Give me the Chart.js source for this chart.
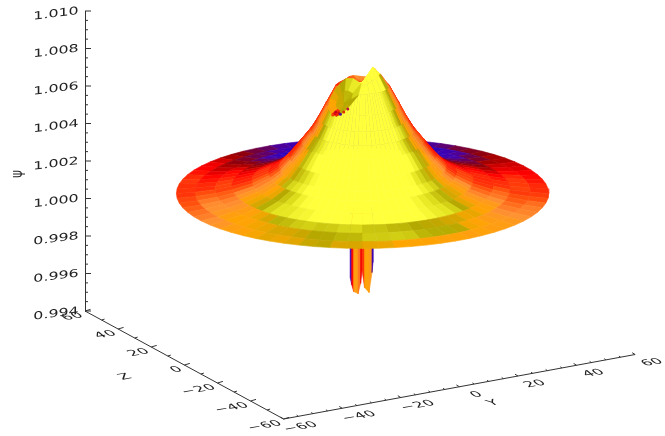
<!DOCTYPE html>
<html>
<head>
<meta charset="utf-8">
<style>
body { margin: 0; background: #fff; }
canvas { display: block; }
</style>
<script src="https://cdn.jsdelivr.net/npm/chart.js@4"></script>
</head>
<body>
<canvas id="surface" width="665" height="436"></canvas>
<script>
// tick labels
const psiTicks = ['0.994', '0.996', '0.998', '1.000', '1.002', '1.004', '1.006', '1.008', '1.010'];
const depthTicks = [-60, -40, -20, 0, 20, 40, 60];

// outer surface, psi read per ring
const ringRadius = [8, 11, 13.3, 15.5, 18.3, 22, 25, 28, 33, 39, 44, 50, 55.5];
const ringPsi = [1.00598, 1.00502, 1.00427, 1.00365, 1.00304, 1.00225, 1.0017, 1.00135, 1.00095, 1.00065, 1.00047, 1.00034, 1.00027];

// crown around the summit, one value each 15 deg from -165 to 180
const crownAzimuth = [-165, -150, -135, -120, -105, -90, -75, -60, -45, -30, -15, 0, 15, 30, 45, 60, 75, 90, 105, 120, 135, 150, 165, 180];
const crownPsi55 = [1.00625, 1.0063, 1.0063, 1.00625, 1.00615, 1.0061, 1.006, 1.006, 1.006, 1.0061, 1.0062, 1.0063, 1.0064, 1.0065, 1.0066, 1.0067, 1.0067, 1.0066, 1.00645, 1.00635, 1.0063, 1.0062, 1.0062, 1.0062];
const crownPsi36 = [1.0062, 1.0062, 1.0062, 1.0062, 1.0062, 1.0062, 1.0062, 1.0062, 1.0062, 1.0062, 1.0063, 1.0064, 1.0066, 1.0068, 1.007, 1.00711, 1.007, 1.0068, 1.0065, 1.0063, 1.0062, 1.0062, 1.0062, 1.0062];
const summitPsi = 1.0062;

// crater seen on the far left of the summit
const craterX = [-10.2, -9.6, -8.4, -6.7, -4.9, -2.8, -0.4, -1.3, -3.7, -5.8, -7.8, -9.3];
const craterPsi = [1.0048, 1.00533, 1.00576, 1.00613, 1.0064, 1.0064, 1.00613, 1.00549, 1.00496, 1.00459, 1.00437, 1.00453];
const craterMidX = -5.6;
const craterMidPsi = 1.00507;
const spotX = [-8.3, -8.0, -7.5, -7.1, -6.6, -5.6, -4.4, -8.9];
const spotPsi = [1.00452, 1.00461, 1.00448, 1.00457, 1.00449, 1.00462, 1.00478, 1.00445];

// spikes hanging under the disk
const wellX = [-3.7, -3.26, -2.66, -1.33, -0.59, -0.15, 0.59, 1.92, 2.81, 3.1];
const wellPsi = [0.99579, 0.99541, 0.99504, 0.99493, 0.99547, 0.99616, 0.99525, 0.99499, 0.99605, 0.99659];

// styling
const ringBand = [0, 0, 0, 0, 0, 0, 0, 0, 0, -0.1, -0.03, -0.02];
const ringLight = [0.62, 0.62, 0.62, 0.62, 0.6, 0.6, 0.58, 0.56, 0.52, 0.46, 0.38, 0.31];
const ringBack = [0.85, 0.85, 0.85, 0.85, 0.85, 0.85, 0.85, 0.85, 0.8, 0.68, 0.56, 0.44];
const patch = [0, 0.02, -0.012, 0.03, -0.025, 0.012, -0.02, 0.025, -0.008];
const craterEdgeShade = [0.76, 0.78, 0.8, 0.82, 0.88, 0.92, 0.88, 0.82, 0.81, 0.82, 0.5, 0.74];
const craterInnerShade = [0.8, 0.8, 0.8, 0.81, 0.84, 0.84, 0.83, 0.82, 0.82, 0.81, 0.8, 0.8];
const wellShade = [0.08, 0.44, 0.72, 0.6, 0.4, 0.5, 0.74, 0.7, 0.1];
const ramp = [
	[0, 40, 0, 190], [0.12, 70, 0, 170], [0.2, 110, 0, 70], [0.3, 150, 0, 0], [0.42, 255, 0, 0],
	[0.55, 255, 85, 15], [0.65, 255, 145, 50], [0.76, 255, 165, 0], [0.82, 178, 168, 0],
	[0.9, 226, 226, 30], [0.97, 255, 255, 60]
];

const TILT = 5.285e-5; // psi per unit of depth on screen

function shadeColor(t) {
	t = Math.max(0, Math.min(0.97, t));
	for (let i = 1; i < ramp.length; i++) {
		if (t <= ramp[i][0]) {
			const a = ramp[i - 1], b = ramp[i];
			const f = (t - a[0]) / (b[0] - a[0]);
			return 'rgb(' + [1, 2, 3].map(k => Math.round(a[k] + (b[k] - a[k]) * f)).join(',') + ')';
		}
	}
	return 'rgb(255,255,60)';
}

function project(radius, deg, psi) {
	const a = deg * Math.PI / 180;
	return { x: radius * Math.sin(a), y: psi - radius * TILT * Math.cos(a) };
}

function polygon(points, t) {
	const color = shadeColor(t);
	return {
		data: points.concat([points[0]]),
		showLine: true,
		fill: 'shape',
		backgroundColor: color,
		borderColor: color,
		borderWidth: 0.6,
		pointRadius: 0,
		clip: false
	};
}

function facetShade(deg, front, back, band, n) {
	const c = Math.cos(deg * Math.PI / 180);
	const lit = c < 0 ? -back * c * c : front * c + band * c * c * c;
	return 0.5 + lit + patch[n % patch.length];
}

// spikes go first, everything else paints over them
const painted = [];
for (let i = 0; i < wellShade.length; i++) {
	painted.push(polygon([
		{ x: wellX[i], y: 0.9995 }, { x: wellX[i + 1], y: 0.9995 },
		{ x: wellX[i + 1], y: wellPsi[i + 1] }, { x: wellX[i], y: wellPsi[i] }
	], wellShade[i]));
}

// mesh facets, far side first
const facets = [];
for (let j = 0; j < ringRadius.length - 1; j++) {
	for (let s = 0; s < 72; s++) {
		const d0 = s * 5 - 180, d1 = d0 + 5, mid = d0 + 2.5;
		const r0 = ringRadius[j], r1 = ringRadius[j + 1];
		facets.push({
			depth: (r0 + r1) / 2 * Math.cos(mid * Math.PI / 180),
			dataset: polygon([
				project(r0, d0, ringPsi[j]), project(r0, d1, ringPsi[j]),
				project(r1, d1, ringPsi[j + 1]), project(r1, d0, ringPsi[j + 1])
			], facetShade(mid, ringLight[j], ringBack[j], ringBand[j], j + Math.floor(s / 2) * 2))
		});
	}
}
for (let s = 0; s < crownAzimuth.length; s++) {
	const next = (s + 1) % crownAzimuth.length;
	const d0 = crownAzimuth[s], d1 = d0 + 15, mid = d0 + 7.5;
	facets.push({
		depth: 6.7 * Math.cos(mid * Math.PI / 180),
		dataset: polygon([
			project(5.5, d0, crownPsi55[s]), project(5.5, d1, crownPsi55[next]),
			project(8, d1, ringPsi[0]), project(8, d0, ringPsi[0])
		], facetShade(mid, 0.9, -0.15, 0, s))
	});
	facets.push({
		depth: 4.5 * Math.cos(mid * Math.PI / 180),
		dataset: polygon([
			project(3.6, d0, crownPsi36[s]), project(3.6, d1, crownPsi36[next]),
			project(5.5, d1, crownPsi55[next]), project(5.5, d0, crownPsi55[s])
		], facetShade(mid, 1.2, -0.15, 0, s + 3))
	});
	facets.push({
		depth: 1.8 * Math.cos(mid * Math.PI / 180),
		dataset: polygon([
			project(3.6, d0, crownPsi36[s]), project(3.6, d1, crownPsi36[next]), project(0, 0, summitPsi)
		], facetShade(mid, 1.2, -0.15, 0, s))
	});
}
facets.sort((a, b) => a.depth - b.depth);
facets.forEach(f => painted.push(f.dataset));

// crater sits on top of the mesh
for (let i = 0; i < craterX.length; i++) {
	const n = (i + 1) % craterX.length;
	const inner = k => ({
		x: craterMidX + (craterX[k] - craterMidX) * 0.5,
		y: craterMidPsi + (craterPsi[k] - craterMidPsi) * 0.5
	});
	painted.push(polygon([{ x: craterX[i], y: craterPsi[i] }, { x: craterX[n], y: craterPsi[n] }, inner(n), inner(i)], craterEdgeShade[i]));
	painted.push(polygon([inner(i), inner(n), { x: craterMidX, y: craterMidPsi }], craterInnerShade[i]));
}
painted.push({
	data: spotX.map((x, i) => ({ x: x, y: spotPsi[i] })),
	pointRadius: 1.5,
	pointBorderWidth: 0,
	pointBackgroundColor: ['#e01010', '#c80020', '#f02000', '#d01010', '#50109a', '#e03000', '#c01040', '#f04000'],
	showLine: false,
	clip: false
});

// chart draws the first dataset on top
const datasets = painted.reverse();

const TEXT = '#222222';
const FLOOR_A = { x: -82.74, y: 0.994 };       // z = 60
const FLOOR_B = { x: -23.53, y: 0.98824 };     // z = -60, y = -60
const FLOOR_C = { x: 81.26, y: 0.99168 };      // y = 60

const axes3d = {
	id: 'axes3d',
	afterDraw(chart) {
		const { ctx, scales } = chart;
		const sx = p => scales.x.getPixelForValue(p.x);
		const sy = p => scales.y.getPixelForValue(p.y);
		const along = (a, b, v) => ({ x: sx(a) + (sx(b) - sx(a)) * (v + 60) / 120, y: sy(a) + (sy(b) - sy(a)) * (v + 60) / 120 });

		function line(x0, y0, x1, y1) {
			ctx.beginPath();
			ctx.moveTo(x0, y0);
			ctx.lineTo(x1, y1);
			ctx.stroke();
		}

		function label(text, x, y, m, align) {
			ctx.save();
			ctx.transform(m[0], m[1], m[2], m[3], x, y);
			ctx.textAlign = align;
			ctx.textBaseline = 'middle';
			ctx.fillText(text, 0, 0);
			ctx.restore();
		}

		const SKEW = [1.25, -0.22, 0.75, 0.62];
		const FLAT = [1.32, -0.17, 0, 0.9];

		ctx.save();
		ctx.strokeStyle = '#333333';
		ctx.fillStyle = TEXT;
		ctx.lineWidth = 1;
		ctx.font = '12px "DejaVu Sans"';

		// psi axis
		const left = scales.y.left + scales.y.width;
		for (const tick of scales.y.ticks) {
			const major = Math.round(tick.value * 10000) % 20 === 0;
			const y = scales.y.getPixelForValue(tick.value);
			line(left, y, left + (major ? 6 : 3), y);
		}
		psiTicks.forEach(t => {
			label(t, 56, scales.y.getPixelForValue(Number(t)) + 3, FLAT, 'center');
		});
		label('\u03c8', 18, 174, [0, -1, 1.35, 0], 'center');

		// z axis, far corner to near corner
		const a = { x: sx(FLOOR_A), y: sy(FLOOR_A) }, b = { x: sx(FLOOR_B), y: sy(FLOOR_B) }, c = { x: sx(FLOOR_C), y: sy(FLOOR_C) };
		line(a.x, a.y, b.x, b.y);
		line(b.x, b.y, c.x, c.y);
		for (let v = -60; v <= 60; v += 10) {
			const p = along(FLOOR_A, FLOOR_B, -v);
			const major = v % 20 === 0;
			line(p.x, p.y, p.x + (major ? 5.5 : 3), p.y - (major ? 1.6 : 0.9));
		}
		for (let v = -60; v <= 60; v += 5) {
			const p = along(FLOOR_B, FLOOR_C, v);
			const major = v % 20 === 0;
			line(p.x, p.y, p.x - (major ? 3 : 1.6), p.y - (major ? 1.8 : 1.2));
		}
		depthTicks.forEach(v => {
			const name = String(v).replace('-', '\u2212');
			const z = along(FLOOR_A, FLOOR_B, -v);
			label(name, z.x - 3, z.y + 4, SKEW, 'right');
			const y = along(FLOOR_B, FLOOR_C, v);
			label(name, y.x + 17, y.y + 8, SKEW, 'center');
		});
		label('Z', 125, 377, SKEW, 'center');
		label('Y', 493, 403, SKEW, 'center');
		ctx.restore();
	}
};

const surface = new Chart(document.getElementById('surface'), {
	type: 'scatter',
	data: { datasets: datasets },
	plugins: [axes3d],
	options: {
		responsive: false,
		animation: false,
		events: [],
		layout: { padding: { left: 85, top: 11, bottom: 125, right: 0 } },
		plugins: {
			legend: { display: false },
			title: { display: false },
			tooltip: { enabled: false }
		},
		scales: {
			x: { type: 'linear', display: false, min: -82.74, max: 88.96 },
			y: {
				type: 'linear',
				min: 0.994,
				max: 1.010,
				afterFit: s => { s.width = 0; },
				ticks: { display: false, stepSize: 0.0005 },
				grid: { display: false },
				border: { display: true, color: '#333333', width: 1 }
			}
		}
	}
});
</script>
</body>
</html>
